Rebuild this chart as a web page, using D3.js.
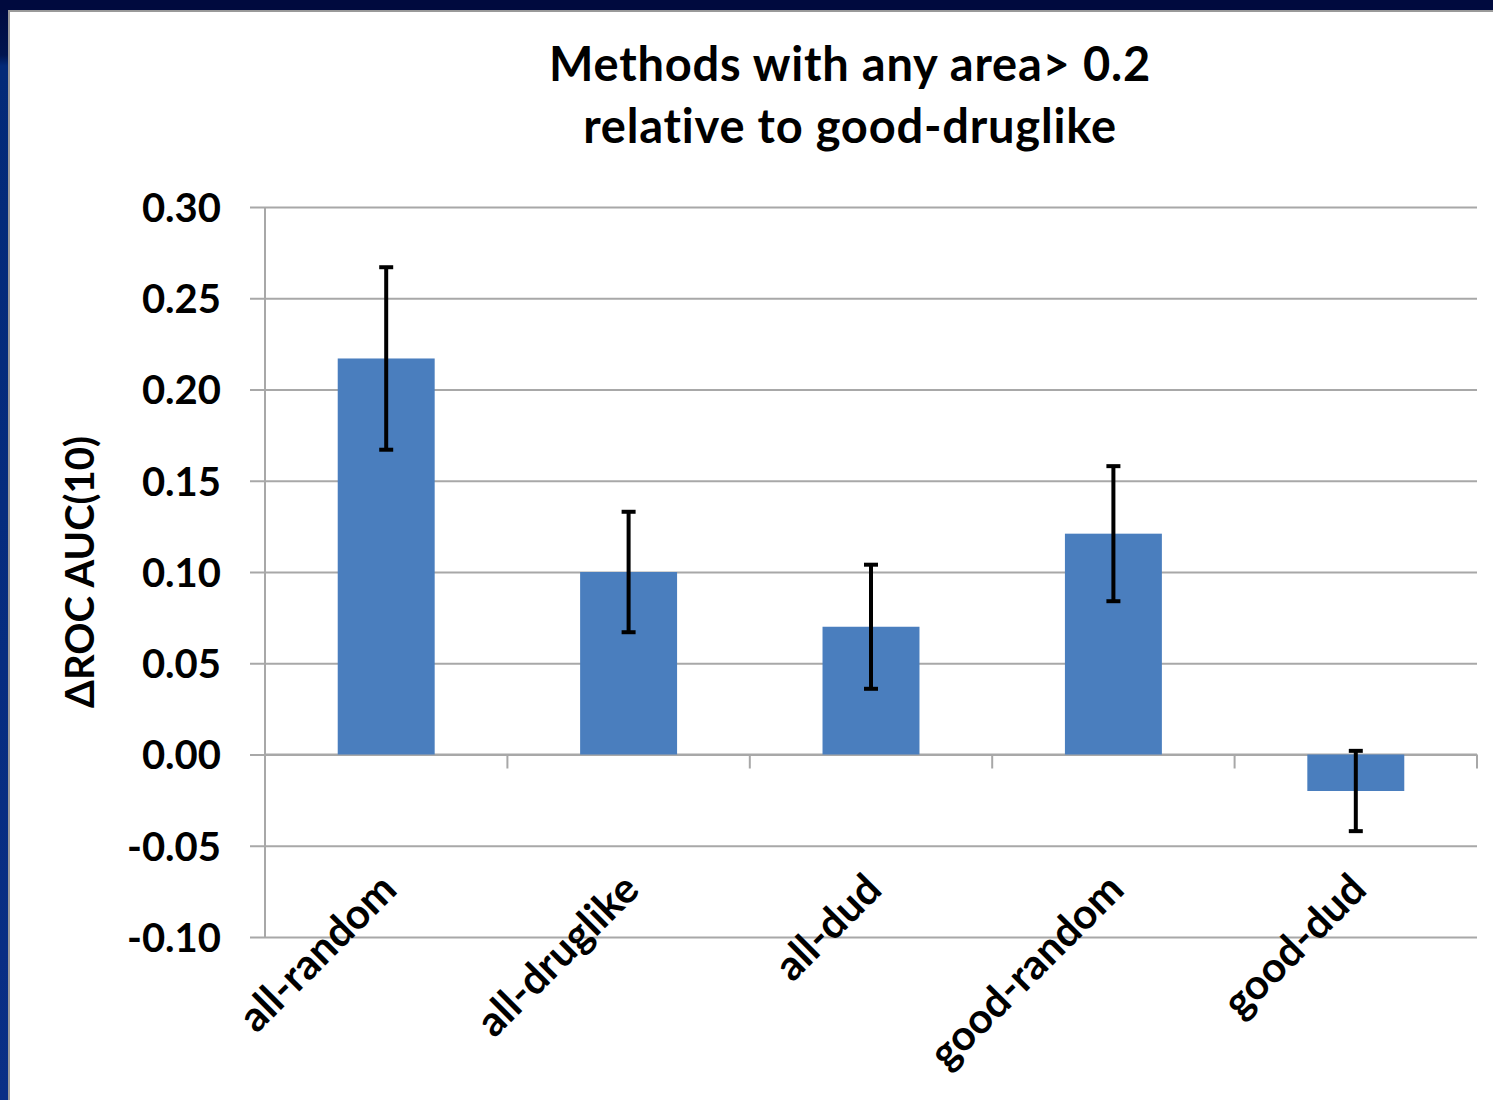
<!DOCTYPE html>
<html>
<head>
<meta charset="utf-8">
<script src="https://cdn.jsdelivr.net/npm/d3@7"></script>
<style>
  html, body { margin: 0; padding: 0; background: #ffffff; }
  svg { display: block; }
  text { font-family: Lato, "Open Sans", sans-serif; fill: #000; }
</style>
</head>
<body>
<script>
// Change in early ROC AUC per decoy-set comparison
const categories = ["all-random", "all-druglike", "all-dud", "good-random", "good-dud"];
const deltaAuc   = [0.217, 0.100, 0.070, 0.121, -0.020];
const errLow     = [0.050, 0.033, 0.034, 0.037, 0.022];
const errHigh    = [0.050, 0.033, 0.034, 0.037, 0.022];
const yTicks     = [-0.10, -0.05, 0.00, 0.05, 0.10, 0.15, 0.20, 0.25, 0.30];
const titleLines = ["Methods with any area> 0.2", "relative to good-druglike"];
const yTitle     = "\u0394ROC AUC(10)";

const W = 1493, H = 1100;
const svg = d3.select("body").append("svg").attr("width", W).attr("height", H);

// slide frame: navy header band and blue left edge
const defs = svg.append("defs");
const lg = defs.append("linearGradient").attr("id", "edge").attr("x1", 0).attr("y1", 0).attr("x2", 0).attr("y2", 1);
lg.append("stop").attr("offset", "0%").attr("stop-color", "#000a3e");
lg.append("stop").attr("offset", "5%").attr("stop-color", "#00154f");
lg.append("stop").attr("offset", "6%").attr("stop-color", "#032a78");
lg.append("stop").attr("offset", "100%").attr("stop-color", "#0a2f86");
svg.append("rect").attr("x", 0).attr("y", 0).attr("width", 8).attr("height", H).attr("fill", "url(#edge)");
svg.append("rect").attr("x", 0).attr("y", 0).attr("width", W).attr("height", 10).attr("fill", "#000a3e");
svg.append("rect").attr("x", 8).attr("y", 10).attr("width", W - 8).attr("height", 2).attr("fill", "#9a9a9a");
svg.append("rect").attr("x", 8).attr("y", 10).attr("width", 2).attr("height", H - 10).attr("fill", "#9a9a9a");

const plot = { left: 265, right: 1477, top: 207, bottom: 937 };

const y = d3.scaleLinear().domain([-0.10, 0.30]).range([plot.bottom, plot.top]);
const x = d3.scaleBand().domain(categories).range([plot.left, plot.right])
  .paddingInner(0.6).paddingOuter(0.3);

const gridColor = "#a8a8a8";

// horizontal gridlines with short ticks left of the value axis
const yAxis = d3.axisLeft(y).tickValues(yTicks).tickFormat(d => d.toFixed(2))
  .tickSize(-(plot.right - plot.left)).tickPadding(44);
const gy = svg.append("g").attr("transform", `translate(${plot.left},0)`).call(yAxis);
gy.select(".domain").remove();
gy.selectAll(".tick line").attr("x1", -15).attr("stroke", gridColor).attr("stroke-width", 2);
gy.selectAll(".tick text").attr("font-size", 40).attr("font-weight", 700)
  .attr("dy", "0.36em").style("font-family", "Lato, sans-serif");

// value axis line
svg.append("line").attr("x1", plot.left).attr("x2", plot.left)
  .attr("y1", plot.top).attr("y2", plot.bottom).attr("stroke", gridColor).attr("stroke-width", 2);

// category axis along zero with tick marks between categories
const step = x.step();
const gx = svg.append("g");
gx.append("line").attr("x1", plot.left).attr("x2", plot.right)
  .attr("y1", y(0)).attr("y2", y(0)).attr("stroke", gridColor).attr("stroke-width", 2);
gx.selectAll("line.tk").data(categories).join("line").attr("class", "tk")
  .attr("x1", d => x(d) + x.bandwidth() / 2 + step / 2)
  .attr("x2", d => x(d) + x.bandwidth() / 2 + step / 2)
  .attr("y1", y(0)).attr("y2", y(0) + 14)
  .attr("stroke", gridColor).attr("stroke-width", 2);

// bars
svg.append("g").selectAll("rect").data(categories).join("rect")
  .attr("x", d => x(d))
  .attr("width", x.bandwidth())
  .attr("y", (d, i) => y(Math.max(0, deltaAuc[i])))
  .attr("height", (d, i) => Math.abs(y(deltaAuc[i]) - y(0)))
  .attr("fill", "#4a7ebe");

// error bars
const eb = svg.append("g").attr("stroke", "#000").attr("stroke-width", 4);
categories.forEach((c, i) => {
  const cx = x(c) + x.bandwidth() / 2;
  const hi = y(deltaAuc[i] + errHigh[i]);
  const lo = y(deltaAuc[i] - errLow[i]);
  eb.append("line").attr("x1", cx).attr("x2", cx).attr("y1", hi).attr("y2", lo);
  eb.append("line").attr("x1", cx - 7).attr("x2", cx + 7).attr("y1", hi).attr("y2", hi);
  eb.append("line").attr("x1", cx - 7).attr("x2", cx + 7).attr("y1", lo).attr("y2", lo);
});

// rotated category labels
svg.append("g").selectAll("text").data(categories).join("text")
  .attr("transform", d => `translate(${x(d) + x.bandwidth() / 2 - 8},${y(-0.10) - 66}) rotate(-45)`)
  .attr("text-anchor", "end")
  .attr("dy", "0.7em")
  .attr("font-size", 42)
  .attr("font-weight", 700)
  .text(d => d);

// value axis title
svg.append("text")
  .attr("transform", `translate(94,572) rotate(-90)`)
  .attr("text-anchor", "middle")
  .attr("font-size", 40)
  .attr("font-weight", 700)
  .text(yTitle);

// chart title
svg.append("g").selectAll("text").data(titleLines).join("text")
  .attr("x", 850)
  .attr("y", (d, i) => 81 + i * 62)
  .attr("text-anchor", "middle")
  .attr("font-size", 47)
  .attr("letter-spacing", 0.8)
  .attr("font-weight", 700)
  .text(d => d);
</script>
</body>
</html>
